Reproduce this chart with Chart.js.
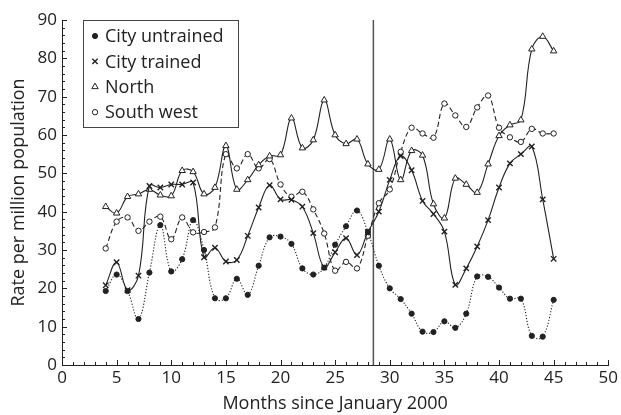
<!DOCTYPE html>
<html>
<head>
<meta charset="utf-8">
<script src="https://cdn.jsdelivr.net/npm/chart.js@4/dist/chart.umd.min.js"></script>
<style>
  body { margin: 0; background: #fff; }
  canvas { display: block; }
</style>
</head>
<body>
<canvas id="chart" width="621" height="415"></canvas>
<script>
// Months since January 2000
const months = [4, 5, 6, 7, 8, 9, 10, 11, 12, 13, 14, 15, 16, 17, 18, 19, 20, 21, 22, 23, 24,
                25, 26, 27, 28, 29, 30, 31, 32, 33, 34, 35, 36, 37, 38, 39, 40, 41, 42, 43, 44, 45];

// Rate per million population
const cityUntrained = [19.3, 23.6, 19.3, 12.0, 24.1, 36.5, 24.4, 27.6, 37.8, 30.0, 17.4, 17.4, 22.5, 18.3,
                       25.9, 33.3, 33.5, 31.6, 25.2, 23.6, 25.4, 31.4, 36.2, 40.3, 34.7, 25.9, 20.0, 17.2,
                       13.4, 8.7, 8.6, 11.4, 9.7, 13.4, 23.1, 23.0, 20.2, 17.3, 17.3, 7.6, 7.4, 17.0];
const cityTrained = [20.8, 26.8, 19.5, 23.3, 46.7, 46.3, 47.1, 47.1, 47.6, 28.1, 30.6, 27.0, 27.4, 33.7,
                     41.1, 46.9, 43.2, 43.1, 41.3, 34.4, 25.5, 29.4, 33.1, 28.7, 34.7, 40.0, 48.3, 54.5,
                     50.8, 42.8, 39.4, 34.8, 20.9, 25.2, 30.9, 37.8, 46.3, 52.6, 55.0, 57.0, 43.2, 27.7];
const north = [41.3, 39.6, 43.9, 44.6, 45.8, 44.3, 44.1, 50.7, 50.4, 44.6, 46.3, 57.2, 45.8, 48.3,
               52.2, 54.5, 54.8, 64.4, 56.6, 58.7, 69.1, 60.0, 57.7, 58.9, 52.4, 51.0, 58.9, 48.3,
               55.9, 54.7, 42.0, 38.3, 48.7, 47.1, 45.0, 52.4, 59.8, 62.6, 63.9, 82.4, 85.7, 81.9];
const southWest = [30.4, 37.4, 38.5, 35.0, 37.4, 38.7, 32.8, 38.5, 34.6, 34.7, 35.9, 55.0, 51.3, 55.0,
                   51.3, 53.7, 47.1, 43.9, 45.2, 40.6, 34.3, 24.6, 26.9, 25.2, 33.7, 42.2, 45.8, 55.6,
                   61.9, 60.4, 59.3, 68.2, 65.1, 62.1, 67.2, 70.3, 61.9, 59.4, 58.2, 61.6, 60.4, 60.4];

// vertical marker line
const interventionMonth = 28.5;

const FONT = "'Open Sans', sans-serif";
const INK = '#222';

function pts(values) {
    return months.map((m, i) => ({ x: m, y: values[i] }));
}

function series(label, values, style, fill, dash, radius, markerWidth) {
    return {
        label: label,
        data: pts(values),
        borderColor: INK,
        borderWidth: 1.1,
        borderDash: dash,
        tension: 0.4,
        pointStyle: style,
        pointRadius: radius,
        pointBorderWidth: markerWidth,
        pointBorderColor: INK,
        pointBackgroundColor: fill,
        legendMarker: true
    };
}

// draw a marker like the chart points (used for the legend)
function drawMarker(ctx, style, fill, r, lw, x, y) {
    ctx.save();
    ctx.strokeStyle = INK;
    ctx.fillStyle = fill;
    ctx.lineWidth = lw;
    ctx.beginPath();
    if (style === 'circle') {
        ctx.arc(x, y, r, 0, Math.PI * 2);
        ctx.fill();
        ctx.stroke();
    } else if (style === 'triangle') {
        const w = r * Math.sqrt(3);
        ctx.moveTo(x, y - r);
        ctx.lineTo(x + w / 2, y + r / 2);
        ctx.lineTo(x - w / 2, y + r / 2);
        ctx.closePath();
        ctx.fill();
        ctx.stroke();
    } else if (style === 'crossRot') {
        const d = r * Math.SQRT1_2;
        ctx.moveTo(x - d, y - d); ctx.lineTo(x + d, y + d);
        ctx.moveTo(x + d, y - d); ctx.lineTo(x - d, y + d);
        ctx.stroke();
    }
    ctx.restore();
}

const extras = {
    id: 'extras',
    afterDraw(chart) {
        const ctx = chart.ctx;
        const xs = chart.scales.x, ys = chart.scales.y;
        const area = chart.chartArea;
        ctx.save();
        ctx.strokeStyle = INK;
        ctx.lineWidth = 1;
        ctx.beginPath();
        // x ticks every month, longer every 5
        for (let v = xs.min; v <= xs.max; v += 1) {
            const px = Math.round(xs.getPixelForValue(v)) + 0.5;
            const len = v % 5 === 0 ? 5 : 3;
            ctx.moveTo(px, area.bottom);
            ctx.lineTo(px, area.bottom - len);
        }
        // y ticks every 2, longer every 10
        for (let v = ys.min; v <= ys.max; v += 2) {
            const py = Math.round(ys.getPixelForValue(v)) + 0.5;
            const len = v % 10 === 0 ? 5 : 3;
            ctx.moveTo(area.left, py);
            ctx.lineTo(area.left + len, py);
        }
        ctx.stroke();

        // legend box
        const bx = 83.5, by = 20.5, bw = 155, bh = 107;
        ctx.strokeStyle = '#444';
        ctx.strokeRect(bx, by, bw, bh);
        ctx.font = '18px ' + FONT;
        ctx.fillStyle = INK;
        ctx.textBaseline = 'middle';
        let row = 0;
        chart.data.datasets.forEach(ds => {
            if (!ds.legendMarker) return;
            const y = 36 + row * 25.4;
            drawMarker(ctx, ds.pointStyle, ds.pointBackgroundColor, ds.pointRadius, ds.pointBorderWidth, 95, y);
            ctx.fillText(ds.label, 105, y + 1);
            row++;
        });
        ctx.restore();
    }
};

new Chart(document.getElementById('chart'), {
    type: 'line',
    data: {
        datasets: [
            series('City untrained', cityUntrained, 'circle', INK, [1.2, 1.8], 2.6, 1),
            series('City trained', cityTrained, 'crossRot', INK, [], 3.8, 1.4),
            series('North', north, 'triangle', '#fff', [], 3.7, 1),
            series('South west', southWest, 'circle', '#fff', [5, 3], 2.7, 1),
            {
                label: 'intervention',
                data: [{ x: interventionMonth, y: 0 }, { x: interventionMonth, y: 90 }],
                borderColor: '#555',
                borderWidth: 1.5,
                pointRadius: 0,
                tension: 0
            }
        ]
    },
    options: {
        responsive: false,
        animation: false,
        layout: { padding: { top: 20, right: 8, left: 0, bottom: 0 } },
        plugins: { legend: { display: false }, tooltip: { enabled: false } },
        scales: {
            x: {
                type: 'linear',
                min: 0, max: 50,
                grid: { display: false, drawTicks: false },
                border: { display: true, color: INK, width: 1 },
                ticks: { stepSize: 5, padding: 3, color: INK, font: { family: FONT, size: 17 } },
                title: { display: true, text: 'Months since January 2000', color: INK,
                         font: { family: FONT, size: 18 }, padding: { top: 0, bottom: 0 } },
                afterFit(scale) { scale.height = 50; }
            },
            y: {
                min: 0, max: 90,
                grid: { display: false, drawTicks: false },
                border: { display: true, color: INK, width: 1 },
                ticks: { stepSize: 10, padding: 5, color: INK, font: { family: FONT, size: 17 } },
                title: { display: true, text: 'Rate per million population', color: INK,
                         font: { family: FONT, size: 18 }, padding: { top: 8, bottom: 0 } },
                afterFit(scale) { scale.width = 62; }
            }
        }
    },
    plugins: [extras]
});
</script>
</body>
</html>
